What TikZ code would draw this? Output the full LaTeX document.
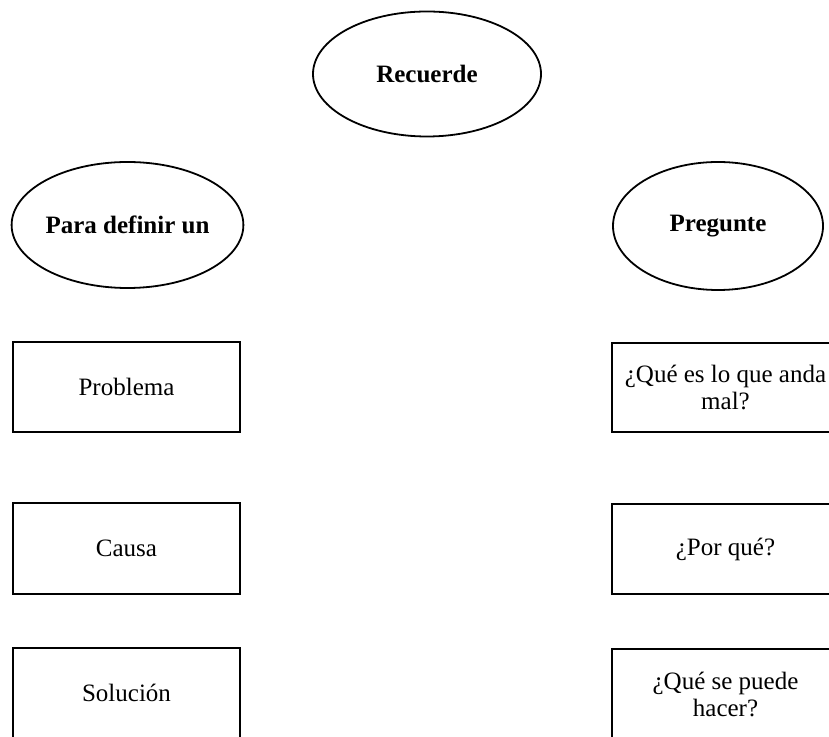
\documentclass[tikz,border=0pt]{standalone}
\usepackage{fontspec}
\setmainfont{Liberation Serif}
\usetikzlibrary{shapes.geometric}
\begin{document}
\begin{tikzpicture}[x=1pt,y=1pt,
  oval/.style={ellipse,draw,line width=1.8pt,inner sep=0pt,font=\fontsize{25}{28}\selectfont\bfseries},
  box/.style={rectangle,draw,line width=1.5pt,inner sep=0pt,minimum width=227,font=\fontsize{25}{27}\selectfont,align=center}]
\useasboundingbox (0,0) rectangle (829,736);
\begin{scope}
\clip (0,0) rectangle (829,736);
\node[oval,minimum width=228,minimum height=125] (rec) at (427,662) {Recuerde};
\node[oval,minimum width=231,minimum height=126] (para) at (127.5,511) {Para definir un};
\node[oval,minimum width=210,minimum height=128] (preg) at (718,510) {Pregunte};
\node[box,minimum height=90] (prob) at (126.5,349) {Problema};
\node[box,minimum height=91] (causa) at (126.5,187.5) {Causa};
\node[box,minimum height=90] (sol) at (126.5,43) {Solución};
\node[box,minimum height=89] (q1) at (725.5,348.5) {¿Qué es lo que anda\\mal?};
\node[box,minimum height=90] (q2) at (725.5,187) {¿Por qué?};
\node[box,minimum height=90] (q3) at (725.5,42) {¿Qué se puede\\hacer?};
\end{scope}
\end{tikzpicture}
\end{document}
